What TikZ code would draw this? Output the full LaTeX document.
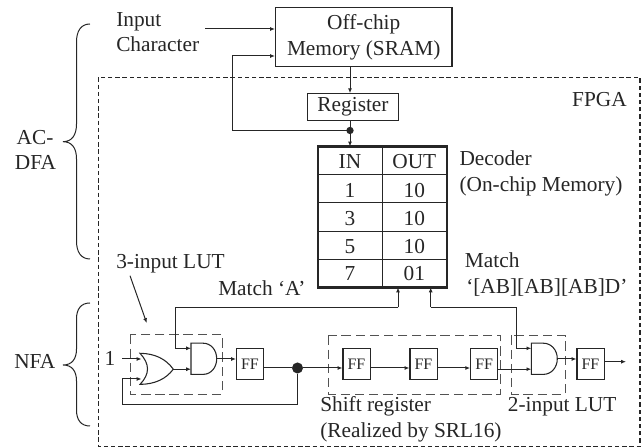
\documentclass[tikz,border=0pt]{standalone}
\usepackage{fontspec}
\setmainfont{Liberation Serif}
\usetikzlibrary{arrows.meta,calc}
\definecolor{ink}{gray}{0.15}
\tikzset{
  lab/.style={inner sep=0pt,anchor=base west,text=ink,font=\fontsize{16}{20}\selectfont},
  labc/.style={lab,anchor=base},
  labe/.style={lab,anchor=base east},
  wire/.style={draw=ink,line width=0.75pt},
  arr/.style={wire,-{Latex[length=3.6pt,width=3pt]}},
  box/.style={draw=ink,line width=0.8pt,inner sep=0pt,text=ink,align=center,font=\fontsize{16}{20}\selectfont},
  ffbox/.style={draw=ink,line width=0.8pt,inner sep=0pt,minimum width=20.3pt,minimum height=23pt,text=ink,font=\fontsize{12}{14}\selectfont},
  lutbox/.style={draw=ink!80,line width=0.7pt,dash pattern=on 7pt off 3.6pt},
  brace/.style={draw=ink,line width=0.75pt},
  dot/.style={circle,fill=ink,inner sep=0pt},
  gate/.style={draw=ink,line width=0.8pt}
}
\begin{document}
\begin{tikzpicture}[x=0.75pt,y=-0.75pt]
\useasboundingbox (0,0) rectangle (644,448);
% FPGA frame
\draw[ink,line width=1.15pt,dash pattern=on 3.2pt off 2.2pt] (98.5,77.5) rectangle (640,446.5);
% boxes
\node[box,minimum width=132.4pt,minimum height=44pt] (sram) at (363.75,37.25) {Off-chip\\[-0.1pt]Memory (SRAM)};
\node[box,minimum width=68.2pt,minimum height=20pt] (reg) at (353,107) {Register};
\coordinate (j) at (350,130.5);
\node[dot,minimum size=5.5pt] (jn) at (j) {};
% decoder table
\coordinate (tl) at (318,146.5);
\coordinate (br) at (447,287.5);
\coordinate (pa) at (398,287.5);
\coordinate (pb) at (430.7,287.5);
\foreach \yy in {174.7,202.7,231.3,259.7}{\draw[ink,line width=0.8pt] (318,\yy) -- (447,\yy);}
\draw[ink,line width=0.8pt] (382.7,146.5) -- (382.7,287.5);
\draw[ink,line width=1.7pt] (tl) rectangle (br);
\node[labc] (hin) at (350,169) {IN};
\node[labc] (hout) at (414.3,169) {OUT};
\node[labc] (a1) at (350,197.5) {1};
\node[labc] (b1) at (414.3,197.5) {10};
\node[labc] (a2) at (350,226) {3};
\node[labc] (b2) at (414.3,226) {10};
\node[labc] (a3) at (350,254) {5};
\node[labc] (b3) at (414.3,254) {10};
\node[labc] (a4) at (350,280.7) {7};
\node[labc] (b4) at (414.3,280.7) {01};
% labels
\node[lab] (t1) at (116,26.7) {Input};
\node[lab] (t2) at (116,51.7) {Character};
\node[labe] (t3) at (627,106.7) {FPGA};
\node[lab] (t4) at (459.3,166) {Decoder};
\node[lab] (t5) at (459.3,191.3) {(On-chip Memory)};
\node[labc] (t6) at (35,144.3) {AC-};
\node[labc] (t7) at (35.5,170) {DFA};
\node[lab] (t8) at (14,369) {NFA};
\node[lab] (t9) at (116,269) {3-input LUT};
\node[lab] (t10) at (218,295.7) {Match ‘A’};
\node[labc] (t11) at (110,365.7) {1};
\node[lab] (t12) at (464.7,267.3) {Match};
\node[lab] (t13) at (466,294) {‘[AB][AB][AB]D’};
\node[lab] (t14) at (320,411.7) {Shift register};
\node[lab] (t15) at (320,437.3) {(Realized by SRL16)};
\node[lab] (t16) at (507.7,411.7) {2-input LUT};
% braces
\draw[brace] (90,24) .. controls (81,24) and (76.5,31) .. (76.5,42) -- (76.5,124) .. controls (76.5,135) and (72,141.7) .. (63,141.7) .. controls (72,141.7) and (76.5,148) .. (76.5,159) -- (76.5,241) .. controls (76.5,252) and (81,259) .. (90,259);
\draw[brace] (90,303) .. controls (81,303) and (76.5,309) .. (76.5,319) -- (76.5,349) .. controls (76.5,359) and (72,365) .. (63,365) .. controls (72,365) and (76.5,371) .. (76.5,381) -- (76.5,410) .. controls (76.5,420) and (81,426) .. (90,426);
% dashed LUT regions
\draw[lutbox] (130,334.5) rectangle (222,394);
\draw[lutbox] (328.7,335.5) rectangle (500.3,394);
\draw[lutbox] (511.3,335.5) rectangle (565,394);
% FFs
\node[ffbox] (ff1) at (250,364) {FF};
\node[ffbox] (ff2) at (356.5,364) {FF};
\node[ffbox] (ff3) at (423.5,364) {FF};
\node[ffbox] (ff4) at (484.2,364) {FF};
\node[ffbox] (ff5) at (590.5,364) {FF};
% gates
\draw[gate] (191,343.2) -- (203,343.2) .. controls (211,343.2) and (216.7,350) .. (216.7,358.8) .. controls (216.7,367.5) and (211,374.4) .. (203,374.4) -- (191,374.4) -- cycle;
\draw[gate] (531.3,343.2) -- (543.3,343.2) .. controls (551.3,343.2) and (557.3,350) .. (557.3,358.8) .. controls (557.3,367.5) and (551.3,374.4) .. (543.3,374.4) -- (531.3,374.4) -- cycle;
\draw[gate] (140,353.3) .. controls (155,353.5) and (166,359) .. (173.3,369.2) .. controls (166,379) and (155,384.2) .. (140,384.4) .. controls (150,374) and (150,364) .. (140,353.3) -- cycle;
\coordinate (and1a) at (191,348.3);
\coordinate (and1b) at (191,369.2);
\coordinate (and1o) at (216.7,359);
\coordinate (and2a) at (531.3,348.3);
\coordinate (and2b) at (531.3,369.2);
\coordinate (and2o) at (557.3,359);
\coordinate (ora) at (141.5,359);
\coordinate (orb) at (141.5,379);
\coordinate (oro) at (173.3,369.2);
\node[dot,minimum size=8.3pt] (j2) at (297.5,368) {};
% connectors
\coordinate (ic) at (205,29);
\coordinate (o1) at (122,359);
\coordinate (o2) at (122,379);
\coordinate (outstart) at (604.2,361.7);
\coordinate (outend) at (626,361.7);
\coordinate (tip) at (146.7,323);
\coordinate (tail) at (130,275.7);
\draw[arr] (ic) -- (ic -| sram.west);
\draw[arr] (j) -- (232,130.5) -- (232,56) -- (sram.west |- 0,56);
\draw[arr] (j |- sram.south) -- (j |- reg.north);
\draw[wire] (j |- reg.south) -- (j);
\draw[arr] (j) -- (j |- tl);
\coordinate (pa2) at (398,307.3);
\coordinate (pb2) at (430.7,307.3);
\draw[arr] (pa2) -- (pa);
\draw[arr] (pb2) -- (pb);
\draw[arr] (pa2) -- (175.7,307.3) -- (175.7,348.3) -- (and1a);
\draw[arr] (pb2) -- (516.3,307.3) -- (516.3,348.3) -- (and2a);
\draw[arr] (o1) -- (ora);
\draw[arr] (j2) -- (297.5,404.3) -- (122,404.3) -- (o2) -- (orb);
\draw[arr] (oro) -- (and1b);
\draw[arr] (and1o) -- (ff1.west |- and1o);
\draw[wire] (ff1.east |- j2) -- (j2);
\draw[arr] (j2) -- (ff2.west |- j2);
\draw[arr] (ff2.east |- j2) -- (ff3.west |- j2);
\draw[arr] (ff3.east |- j2) -- (ff4.west |- j2);
\draw[arr] (ff4.east |- and2b) -- (and2b);
\draw[arr] (and2o) -- (ff5.west |- and2o);
\draw[arr] (outstart) -- (outend);
\draw[arr] (tail) -- (tip);
\end{tikzpicture}
\end{document}
